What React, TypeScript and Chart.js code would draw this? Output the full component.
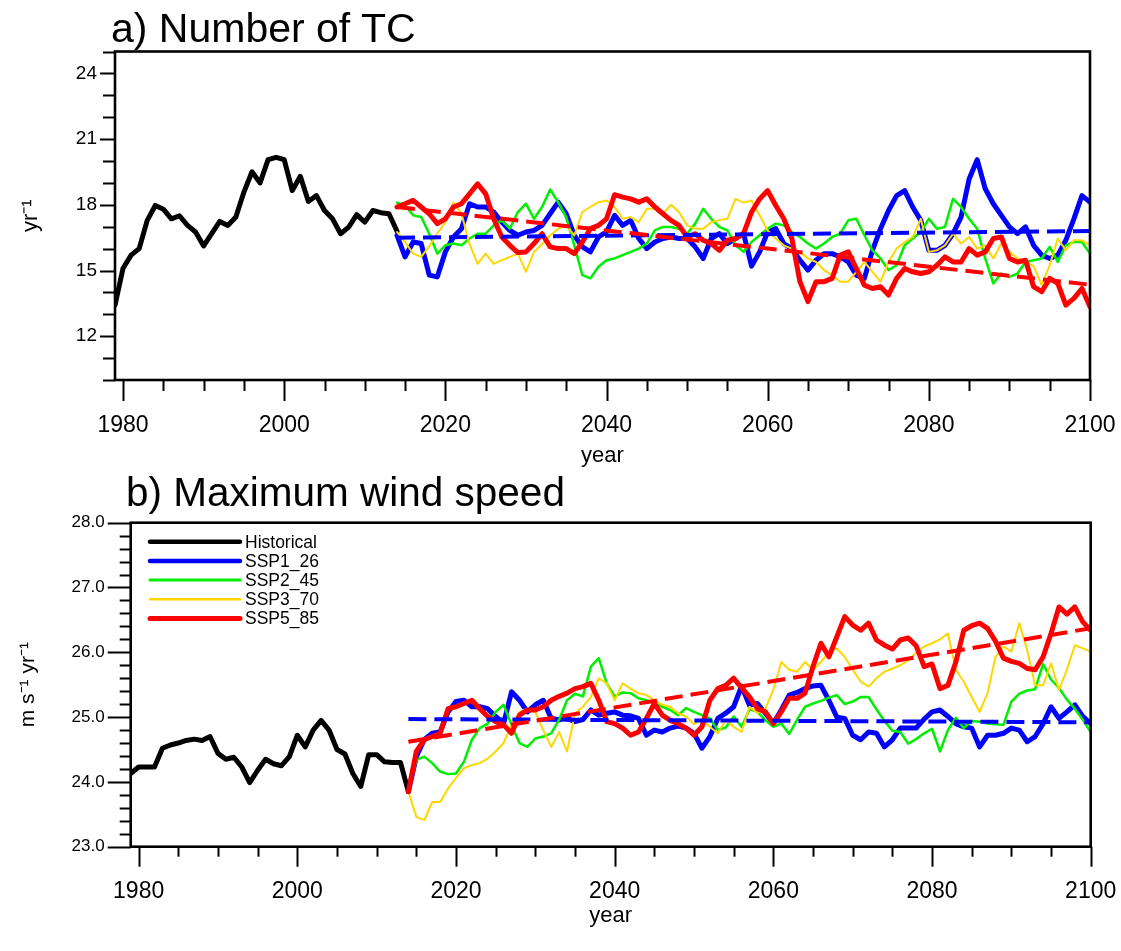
import React, { useEffect, useRef } from "react";
import { Chart, registerables } from "chart.js";

Chart.register(...registerables);

const FONT = "'Liberation Sans', Arial, Helvetica, sans-serif";

// ---------- shared axis data ----------
const HIST_FIRST_YEAR = 1979;
const SSP_FIRST_YEAR = 2014;
const X_MIN = 1979;
const X_MAX = 2100;
const X_TICKS = [1980, 2000, 2020, 2040, 2060, 2080, 2100];
const TREND_YEARS = [2014, 2100];

const SERIES_NAMES = ["Historical", "SSP1_26", "SSP2_45", "SSP3_70", "SSP5_85"];
const SERIES_COLORS = ["#000000", "#0000ff", "#00ee00", "#ffd700", "#ff0000"];
const SERIES_WIDTHS = [5, 5, 2.5, 2, 5];

// ---------- a) Number of TC ----------
const TC_Y_MIN = 10;
const TC_Y_MAX = 25;
const TC_Y_TICKS = [12, 15, 18, 21, 24];

const TC_HIST = [
  13.42, 15.1, 15.7, 16.0, 17.29, 17.97, 17.8, 17.36, 17.5, 17.06,
  16.76, 16.12, 16.68, 17.24, 17.06, 17.44, 18.58, 19.51, 19.0, 20.06,
  20.17, 20.06, 18.65, 19.3, 18.15, 18.42, 17.74, 17.36, 16.68, 16.98,
  17.55, 17.21, 17.74, 17.64, 17.59, 16.79,
];
const TC_SSP126 = [
  16.6, 15.62, 16.3, 16.23, 14.79, 14.71, 15.85, 16.53, 16.91, 18.05,
  17.9, 17.9, 17.67, 17.21, 16.83, 16.61, 16.76, 16.83, 17.06, 17.59,
  18.12, 17.59, 16.6, 16.08, 15.85, 16.53, 16.76, 17.52, 17.06, 17.29,
  16.46, 16.0, 16.3, 16.46, 16.53, 16.46, 16.46, 16.08, 15.55, 16.46,
  16.68, 16.23, 16.46, 16.7, 15.2, 15.85, 16.76, 16.91, 16.23, 16.0,
  15.47, 15.02, 15.47, 15.77, 15.77, 15.62, 15.39, 14.79, 14.64, 15.92,
  16.91, 17.74, 18.42, 18.65, 17.9, 17.29, 15.92, 15.92, 16.15, 16.68,
  17.44, 19.18, 20.06, 18.73, 18.05, 17.52, 16.99, 16.68, 16.99, 16.15,
  15.7, 15.55, 15.7, 16.38, 17.36, 18.42, 18.12,
];
const TC_SSP245 = [
  18.1, 17.97, 17.52, 17.44, 16.68, 15.77, 16.15, 16.23, 16.15, 16.46,
  16.68, 16.68, 17.06, 17.29, 16.91, 17.67, 18.05, 17.36, 17.9, 18.7,
  18.12, 17.44, 16.15, 14.79, 14.64, 15.17, 15.47, 15.55, 15.7, 15.85,
  16.0, 16.23, 16.83, 16.99, 16.99, 16.91, 16.68, 17.14, 17.82, 17.36,
  16.99, 16.83, 16.15, 15.85, 16.3, 16.61, 16.91, 17.14, 17.06, 16.76,
  16.53, 16.23, 16.0, 16.23, 16.53, 16.68, 17.29, 17.36, 16.61, 15.92,
  15.55, 15.02, 15.24, 16.15, 16.46, 16.76, 17.36, 16.91, 16.99, 18.27,
  17.9, 17.36, 16.91, 15.55, 14.41, 14.86, 14.71, 14.86, 15.39, 15.47,
  15.55, 16.08, 15.39, 16.15, 16.3, 16.3, 15.77,
];
const TC_SSP370 = [
  16.76, 16.3, 15.77, 15.62, 16.1, 16.7, 17.2, 18.1, 17.6, 16.2,
  15.3, 15.77, 15.3, 15.47, 15.62, 15.77, 14.94, 15.85, 16.2, 16.6,
  16.91, 17.06, 16.6, 17.67, 17.9, 18.12, 18.2, 17.9, 17.36, 17.44,
  17.21, 17.82, 17.82, 17.6, 18.0, 17.67, 17.06, 16.91, 16.91, 17.21,
  17.3, 17.36, 18.27, 18.1, 18.2, 17.52, 16.83, 16.46, 16.15, 16.0,
  15.85, 15.55, 15.39, 15.02, 14.79, 14.49, 14.49, 14.94, 15.39, 14.94,
  14.49, 15.39, 16.0, 16.3, 16.53, 17.36, 15.85, 15.92, 16.15, 16.68,
  16.23, 16.53, 16.0, 16.15, 15.55, 16.23, 15.85, 15.55, 15.39, 15.2,
  14.33, 15.24, 16.46, 15.92, 16.38, 16.38, 16.15,
];
const TC_SSP585 = [
  17.9, 18.05, 18.2, 17.9, 17.59, 17.14, 17.36, 17.9, 18.05, 18.5,
  18.96, 18.5, 17.36, 16.53, 16.15, 15.82, 15.85, 16.23, 16.68, 16.08,
  16.0, 16.0, 15.77, 16.3, 16.91, 17.06, 17.36, 18.46, 18.35, 18.27,
  18.12, 18.27, 17.9, 17.59, 17.29, 17.06, 16.53, 16.68, 16.38, 16.23,
  15.92, 16.38, 16.46, 16.68, 17.67, 18.27, 18.65, 17.97, 17.36, 16.46,
  14.49, 13.58, 14.49, 14.49, 14.64, 15.7, 15.85, 15.09, 14.33, 14.18,
  14.26, 13.88, 14.64, 15.09, 14.94, 14.86, 14.94, 15.24, 15.62, 15.39,
  15.39, 16.0, 15.7, 15.85, 16.46, 16.53, 15.55, 15.39, 15.47, 14.26,
  14.03, 14.64, 14.41, 13.42, 13.73, 14.18, 13.35,
];
const TC_TREND_SSP126 = [16.5, 16.8];
const TC_TREND_SSP585 = [17.9, 14.35];

// ---------- b) Maximum wind speed ----------
const WS_Y_MIN = 23;
const WS_Y_MAX = 28;
const WS_Y_TICKS = [23, 24, 25, 26, 27, 28];

const WS_HIST = [
  24.13, 24.23, 24.23, 24.23, 24.52, 24.57, 24.6, 24.64, 24.66, 24.64,
  24.7, 24.44, 24.35, 24.38, 24.23, 23.99, 24.18, 24.35, 24.28, 24.25,
  24.39, 24.72, 24.54, 24.8, 24.95, 24.8, 24.5, 24.43, 24.13, 23.93,
  24.42, 24.42, 24.31, 24.3, 24.3, 23.85,
];
const WS_SSP126 = [
  23.85, 24.39, 24.65, 24.75, 24.77, 25.08, 25.24, 25.26, 25.16, 25.16,
  25.13, 25.01, 24.9, 25.39, 25.26, 25.08, 25.19, 25.26, 24.98, 24.96,
  24.98, 24.93, 24.96, 25.11, 25.03, 25.06, 25.08, 25.03, 25.02, 24.98,
  24.72, 24.8, 24.77, 24.83, 24.86, 24.83, 24.75, 24.52, 24.7, 24.98,
  25.06, 25.16, 25.48, 25.18, 25.21, 25.06, 24.9, 25.11, 25.34, 25.38,
  25.44, 25.48, 25.49, 25.26, 25.0, 24.98, 24.72, 24.65, 24.77, 24.75,
  24.54, 24.65, 24.83, 24.83, 24.83, 24.97, 25.08, 25.11, 25.01, 24.9,
  24.85, 24.83, 24.54, 24.72, 24.72, 24.75, 24.83, 24.8, 24.62, 24.7,
  24.9, 25.16, 24.98, 25.08, 25.19, 25.01, 24.9,
];
const WS_SSP245 = [
  23.85, 24.34, 24.39, 24.29, 24.16, 24.12, 24.13, 24.31, 24.65, 24.83,
  24.9, 25.08, 25.19, 24.88, 24.6, 24.54, 24.67, 24.7, 24.75, 24.96,
  25.26, 25.36, 25.32, 25.78, 25.91, 25.52, 25.32, 25.38, 25.37, 25.29,
  25.26, 25.21, 25.16, 25.11, 25.03, 25.14, 25.08, 25.03, 24.98, 24.8,
  24.84, 25.01, 24.85, 25.12, 25.08, 24.95, 24.85, 24.9, 24.74, 24.96,
  25.16, 25.21, 25.25, 25.3, 25.34, 25.2, 25.24, 25.31, 25.31, 25.12,
  24.94, 24.79, 24.77, 24.59, 24.66, 24.75, 24.82, 24.47, 24.8, 24.99,
  24.83, 24.94, 24.93, 24.9, 24.89, 24.88, 25.24, 25.36, 25.41, 25.43,
  25.82, 25.58, 25.45, 25.27, 25.13, 24.96, 24.77,
];
const WS_SSP370 = [
  23.85, 23.46, 23.41, 23.69, 23.69, 23.9, 24.06, 24.21, 24.26, 24.29,
  24.36, 24.47, 24.6, 24.88, 25.08, 25.13, 25.08, 24.8, 24.54, 24.77,
  24.47, 25.06, 25.16, 25.31, 25.6, 25.52, 25.26, 25.52, 25.44, 25.37,
  25.34, 25.26, 25.19, 25.16, 25.06, 25.01, 24.89, 24.96, 24.85, 24.75,
  24.96, 24.85, 24.77, 25.16, 25.06, 25.13, 25.42, 25.85, 25.73, 25.7,
  25.85, 25.73, 25.85, 26.01, 26.06, 25.93, 25.73, 25.55, 25.47, 25.6,
  25.7, 25.75, 25.8, 25.88, 25.99, 26.09, 26.14, 26.2, 26.29, 25.73,
  25.55, 25.31, 25.08, 25.37, 25.93, 26.09, 26.01, 26.45, 26.03, 25.49,
  25.49, 25.83, 25.42, 25.73, 26.11, 26.06, 26.01,
];
const WS_SSP585 = [
  23.85, 24.47, 24.65, 24.7, 24.75, 25.13, 25.16, 25.21, 25.26, 25.13,
  25.01, 24.93, 24.88, 24.75, 25.03, 25.11, 25.11, 25.16, 25.26, 25.32,
  25.37, 25.44, 25.47, 25.52, 25.26, 24.93, 24.9, 24.83, 24.72, 24.77,
  24.98, 25.21, 25.03, 24.95, 24.9, 24.83, 24.72, 24.85, 25.26, 25.44,
  25.49, 25.6, 25.45, 25.31, 25.13, 25.08, 24.9, 25.08, 25.29, 25.29,
  25.37, 25.78, 26.14, 25.93, 26.24, 26.55, 26.42, 26.34, 26.45, 26.19,
  26.11, 26.05, 26.19, 26.22, 26.1, 25.78, 25.82, 25.44, 25.49, 25.85,
  26.34, 26.41, 26.45, 26.37, 26.17, 25.91, 25.86, 25.83, 25.75, 25.73,
  25.93, 26.29, 26.7, 26.59, 26.7, 26.47, 26.34,
];
const WS_TREND_SSP126 = [24.97, 24.92];
const WS_TREND_SSP585 = [24.62, 26.37];

// ---------- helpers ----------
const toPoints = (firstYear: number, values: number[]) =>
  values.map((v, i) => ({ x: firstYear + i, y: v }));
const trendPoints = (values: number[]) =>
  values.map((v, i) => ({ x: TREND_YEARS[i], y: v }));

const frameTicksPlugin = {
  id: "frameTicks",
  afterDraw(chart: any, _args: any, opts: any) {
    const { ctx, chartArea: a, scales } = chart;
    const xs = scales.x;
    const ys = scales.y;
    ctx.save();
    ctx.strokeStyle = "#000";
    ctx.lineCap = "butt";
    ctx.lineWidth = opts.tickWidth;
    for (let v = opts.xMinorFrom; v <= X_MAX; v += opts.xMinorStep) {
      const major = X_TICKS.includes(v);
      const len = major ? opts.xMajorLen : opts.xMinorLen;
      const px = Math.round(xs.getPixelForValue(v)) + 0.5;
      ctx.beginPath();
      ctx.moveTo(px, a.bottom);
      ctx.lineTo(px, a.bottom + len);
      ctx.stroke();
    }
    const n = Math.round((opts.yMax - opts.yMin) / opts.yMinorStep);
    for (let i = 0; i <= n; i++) {
      const v = opts.yMin + i * opts.yMinorStep;
      const major = opts.yMajor.some((m: number) => Math.abs(m - v) < 1e-6);
      const len = major ? opts.yMajorLen : opts.yMinorLen;
      const py = Math.round(ys.getPixelForValue(v)) + 0.5;
      ctx.beginPath();
      ctx.moveTo(a.left, py);
      ctx.lineTo(a.left - len, py);
      ctx.stroke();
    }
    ctx.lineWidth = opts.frameWidth;
    ctx.strokeRect(a.left, a.top, a.right - a.left, a.bottom - a.top);
    ctx.restore();
  },
};

const lineLegendPlugin = {
  id: "lineLegend",
  afterDraw(chart: any, _args: any, opts: any) {
    if (!opts || !opts.show) return;
    const { ctx } = chart;
    ctx.save();
    ctx.font = `${opts.fontSize}px ${FONT}`;
    ctx.textBaseline = "middle";
    ctx.textAlign = "left";
    SERIES_NAMES.forEach((name, i) => {
      const y = opts.y0 + i * opts.rowH;
      ctx.strokeStyle = SERIES_COLORS[i];
      ctx.lineWidth = opts.widths[i];
      ctx.lineCap = "round";
      ctx.beginPath();
      ctx.moveTo(opts.x0, y);
      ctx.lineTo(opts.x0 + opts.lineLen, y);
      ctx.stroke();
      ctx.fillStyle = "#000";
      ctx.fillText(name, opts.x0 + opts.lineLen + opts.gap, y + 1);
    });
    ctx.restore();
  },
};

type PanelCfg = {
  width: number;
  height: number;
  hist: number[];
  ssp: number[][];
  trend126: number[];
  trend585: number[];
  yMin: number;
  yMax: number;
  yTicks: number[];
  yMinorStep: number;
  yDecimals: number;
  yTitle: string;
  yTitleSize: number;
  yTitlePad: number;
  yLabelSize: number;
  yLabelPad: number;
  axisLeft: number;
  plotTop: number;
  plotBottom: number;
  padRight: number;
  xLabelPad: number;
  xTitlePad: number;
  yMajorLen: number;
  yMinorLen: number;
  xMajorLen: number;
  xMinorLen: number;
  legend: boolean;
};

const zeroPad = (s: any) => {
  s.paddingLeft = 0;
  s.paddingRight = 0;
  s.paddingTop = 0;
  s.paddingBottom = 0;
};

function buildConfig(p: PanelCfg): any {
  const datasets: any[] = [];
  const common = {
    pointRadius: 0,
    pointHoverRadius: 0,
    fill: false,
    tension: 0,
    borderJoinStyle: "round",
    borderCapStyle: "round",
  };
  datasets.push({
    ...common,
    label: "SSP1_26 trend",
    data: trendPoints(p.trend126),
    borderColor: SERIES_COLORS[1],
    borderWidth: 4,
    borderDash: [18, 8],
    borderCapStyle: "butt",
    order: 1,
  });
  datasets.push({
    ...common,
    label: "SSP5_85 trend",
    data: trendPoints(p.trend585),
    borderColor: SERIES_COLORS[4],
    borderWidth: 4,
    borderDash: [18, 8],
    borderCapStyle: "butt",
    order: 0,
  });
  const allSeries = [p.hist, ...p.ssp];
  allSeries.forEach((vals, i) => {
    datasets.push({
      ...common,
      label: SERIES_NAMES[i],
      data: toPoints(i === 0 ? HIST_FIRST_YEAR : SSP_FIRST_YEAR, vals),
      borderColor: SERIES_COLORS[i],
      borderWidth: SERIES_WIDTHS[i],
      order: [7, 5, 4, 3, 2][i],
    });
  });

  return {
    type: "line",
    data: { datasets },
    plugins: [frameTicksPlugin, lineLegendPlugin],
    options: {
      animation: false,
      responsive: false,
      maintainAspectRatio: false,
      devicePixelRatio: 1,
      events: [],
      layout: {
        padding: { left: 0, right: p.padRight, top: p.plotTop, bottom: 0 },
      },
      plugins: {
        legend: { display: false },
        tooltip: { enabled: false },
        title: { display: false },
        frameTicks: {
          tickWidth: 2,
          frameWidth: 2.6,
          xMinorFrom: 1980,
          xMinorStep: 5,
          xMajorLen: p.xMajorLen,
          xMinorLen: p.xMinorLen,
          yMin: p.yMin,
          yMax: p.yMax,
          yMinorStep: p.yMinorStep,
          yMajor: p.yTicks,
          yMajorLen: p.yMajorLen,
          yMinorLen: p.yMinorLen,
        },
        lineLegend: {
          show: p.legend,
          x0: 150,
          y0: 541.7 - 475,
          rowH: 19.2,
          lineLen: 90,
          gap: 5,
          fontSize: 17.5,
          widths: [4.5, 4.5, 3, 2.5, 5],
        },
      },
      scales: {
        x: {
          type: "linear",
          min: X_MIN,
          max: X_MAX,
          afterBuildTicks: (s: any) => {
            s.ticks = X_TICKS.map((v) => ({ value: v }));
          },
          afterFit: (s: any) => {
            s.height = p.height - p.plotBottom;
            zeroPad(s);
          },
          grid: { display: false, drawTicks: false, drawOnChartArea: false },
          border: { display: false },
          ticks: {
            autoSkip: false,
            maxRotation: 0,
            minRotation: 0,
            padding: p.xLabelPad,
            color: "#000",
            font: { family: FONT, size: 23 },
            callback: (v: any) => String(v),
          },
          title: {
            display: true,
            text: "year",
            color: "#000",
            font: { family: FONT, size: 22 },
            padding: { top: 0, bottom: p.xTitlePad },
          },
        },
        y: {
          type: "linear",
          min: p.yMin,
          max: p.yMax,
          afterBuildTicks: (s: any) => {
            s.ticks = p.yTicks.map((v) => ({ value: v }));
          },
          afterFit: (s: any) => {
            s.width = p.axisLeft;
            zeroPad(s);
          },
          grid: { display: false, drawTicks: false, drawOnChartArea: false },
          border: { display: false },
          ticks: {
            autoSkip: false,
            padding: p.yLabelPad,
            color: "#000",
            font: { family: FONT, size: p.yLabelSize },
            callback: (v: any) => Number(v).toFixed(p.yDecimals),
          },
          title: {
            display: true,
            text: p.yTitle,
            color: "#000",
            font: { family: FONT, size: p.yTitleSize },
            padding: { top: p.yTitlePad, bottom: 0 },
          },
        },
      },
    },
  };
}

const PANEL_A: PanelCfg = {
  width: 1121,
  height: 475,
  hist: TC_HIST,
  ssp: [TC_SSP126, TC_SSP245, TC_SSP370, TC_SSP585],
  trend126: TC_TREND_SSP126,
  trend585: TC_TREND_SSP585,
  yMin: TC_Y_MIN,
  yMax: TC_Y_MAX,
  yTicks: TC_Y_TICKS,
  yMinorStep: 1,
  yDecimals: 0,
  yTitle: "yr\u207B\u00B9",
  yTitleSize: 22,
  yTitlePad: 18,
  yLabelSize: 19,
  yLabelPad: 18,
  axisLeft: 115,
  plotTop: 51.5,
  plotBottom: 380,
  padRight: 31,
  xLabelPad: 32,
  xTitlePad: 6,
  yMajorLen: 15,
  yMinorLen: 12,
  xMajorLen: 21,
  xMinorLen: 11,
  legend: false,
};

const PANEL_B: PanelCfg = {
  width: 1121,
  height: 476,
  hist: WS_HIST,
  ssp: [WS_SSP126, WS_SSP245, WS_SSP370, WS_SSP585],
  trend126: WS_TREND_SSP126,
  trend585: WS_TREND_SSP585,
  yMin: WS_Y_MIN,
  yMax: WS_Y_MAX,
  yTicks: WS_Y_TICKS,
  yMinorStep: 0.2,
  yDecimals: 1,
  yTitle: "m s\u207B\u00B9 yr\u207B\u00B9",
  yTitleSize: 21,
  yTitlePad: 16,
  yLabelSize: 17,
  yLabelPad: 26,
  axisLeft: 130.7,
  plotTop: 47.7,
  plotBottom: 371.7,
  padRight: 30.3,
  xLabelPad: 31,
  xTitlePad: 22,
  yMajorLen: 23,
  yMinorLen: 11,
  xMajorLen: 20,
  xMinorLen: 10,
  legend: true,
};

function Panel({ cfg, top }: { cfg: PanelCfg; top: number }) {
  const ref = useRef<HTMLCanvasElement | null>(null);
  useEffect(() => {
    if (!ref.current) return;
    const chart = new Chart(ref.current, buildConfig(cfg));
    return () => chart.destroy();
  }, [cfg]);
  return (
    <canvas
      ref={ref}
      width={cfg.width}
      height={cfg.height}
      style={{
        position: "absolute",
        left: 0,
        top,
        width: cfg.width,
        height: cfg.height,
      }}
    />
  );
}

const titleStyle: React.CSSProperties = {
  position: "absolute",
  fontFamily: FONT,
  lineHeight: "40px",
  color: "#000",
  whiteSpace: "nowrap",
};

export default function App() {
  return (
    <div
      style={{
        position: "absolute",
        left: 0,
        top: 0,
        width: 1121,
        height: 951,
        background: "#fff",
        overflow: "hidden",
      }}
    >
      <Panel cfg={PANEL_A} top={0} />
      <Panel cfg={PANEL_B} top={475} />
      <div style={{ ...titleStyle, fontSize: 41, left: 111, top: 8 }}>a) Number of TC</div>
      <div style={{ ...titleStyle, fontSize: 40.5, left: 126, top: 472 }}>b) Maximum wind speed</div>
    </div>
  );
}
